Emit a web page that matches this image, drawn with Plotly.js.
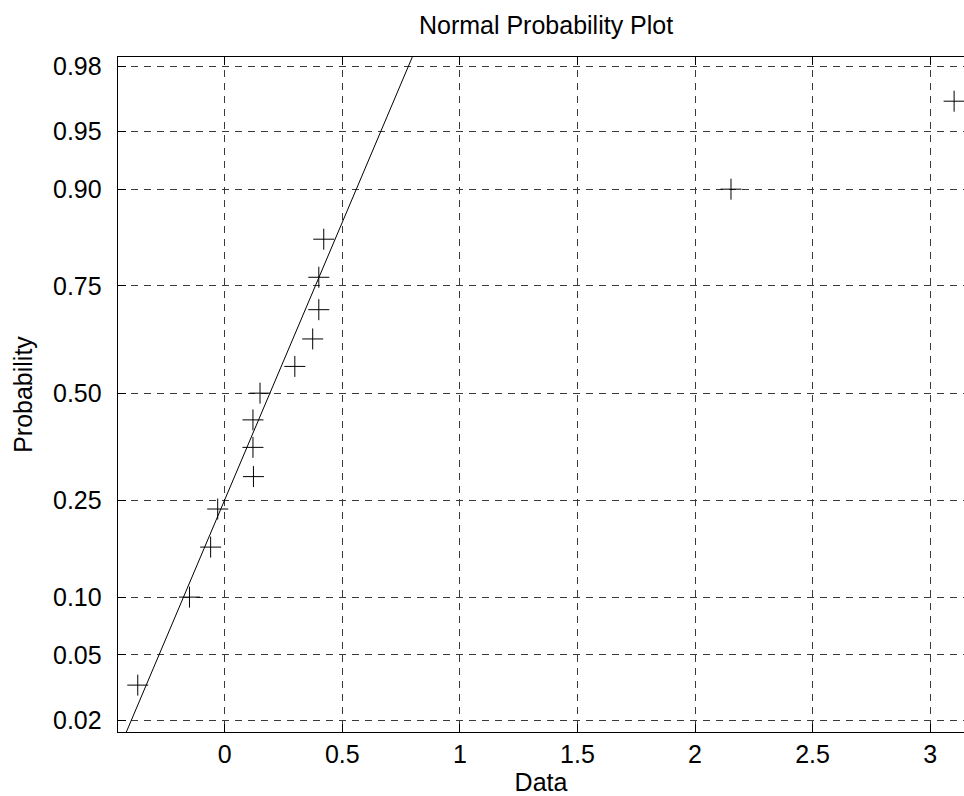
<!DOCTYPE html>
<html>
<head>
<meta charset="utf-8">
<script src="https://cdn.plot.ly/plotly-3.0.1.min.js"></script>
<style>html,body{margin:0;padding:0;background:#fff;}#chart{width:964px;height:796px;}</style>
</head>
<body>
<div id="chart"></div>
<script>
// ---- data ----
const dataX = [-0.370, -0.150, -0.060, -0.030, 0.122, 0.120, 0.120, 0.150, 0.298, 0.374, 0.400, 0.400, 0.421, 2.153, 3.102];
const dataProb = [0.0333, 0.1000, 0.1667, 0.2333, 0.3000, 0.3667, 0.4333, 0.5000, 0.5667, 0.6333, 0.7000, 0.7667, 0.8333, 0.9000, 0.9667];
const fitLineX = [-0.428, 0.798];
const fitLineProb = [0.0153, 0.9827];
const tickProbs = [0.02, 0.05, 0.10, 0.25, 0.50, 0.75, 0.90, 0.95, 0.98];
const tickLabels = ['0.02', '0.05', '0.10', '0.25', '0.50', '0.75', '0.90', '0.95', '0.98'];
const xTickVals = [0, 0.5, 1, 1.5, 2, 2.5, 3];
const xTickLabels = ['0', '0.5', '1', '1.5', '2', '2.5', '3'];

// inverse standard normal CDF (probit axis transform)
function norminv(p) {
  const a = [-3.969683028665376e+01, 2.209460984245205e+02, -2.759285104469687e+02, 1.383577518672690e+02, -3.066479806614716e+01, 2.506628277459239e+00];
  const b = [-5.447609879822406e+01, 1.615858368580409e+02, -1.556989798598866e+02, 6.680131188771972e+01, -1.328068155288572e+01];
  const c = [-7.784894002430293e-03, -3.223964580411365e-01, -2.400758277161838e+00, -2.549732539343734e+00, 4.374664141464968e+00, 2.938163982698783e+00];
  const d = [7.784695709041462e-03, 3.224671290700398e-01, 2.445134137142996e+00, 3.754408661907416e+00];
  const pl = 0.02425, ph = 1 - pl;
  let q, r;
  if (p < pl) {
    q = Math.sqrt(-2 * Math.log(p));
    return (((((c[0]*q+c[1])*q+c[2])*q+c[3])*q+c[4])*q+c[5]) / ((((d[0]*q+d[1])*q+d[2])*q+d[3])*q+1);
  } else if (p <= ph) {
    q = p - 0.5; r = q * q;
    return (((((a[0]*r+a[1])*r+a[2])*r+a[3])*r+a[4])*r+a[5])*q / (((((b[0]*r+b[1])*r+b[2])*r+b[3])*r+b[4])*r+1);
  } else {
    q = Math.sqrt(-2 * Math.log(1 - p));
    return -(((((c[0]*q+c[1])*q+c[2])*q+c[3])*q+c[4])*q+c[5]) / ((((d[0]*q+d[1])*q+d[2])*q+d[3])*q+1);
  }
}

const FONT = 'Liberation Sans, Arial, sans-serif';

const traces = [
  {
    type: 'scatter', mode: 'lines',
    x: fitLineX, y: fitLineProb.map(norminv),
    line: {color: '#000', width: 1},
    hoverinfo: 'skip', showlegend: false
  },
  {
    type: 'scatter', mode: 'markers',
    x: dataX, y: dataProb.map(norminv),
    marker: {symbol: 'cross-thin-open', size: 15, color: '#000', line: {color: '#000', width: 1}},
    cliponaxis: false, showlegend: false
  }
];

const layout = {
  width: 964, height: 796,
  margin: {l: 118, r: 0, t: 57, b: 64, pad: 0},
  paper_bgcolor: '#fff', plot_bgcolor: '#fff',
  font: {family: FONT, size: 25, color: '#000'},
  showlegend: false,
  title: {text: 'Normal Probability Plot', font: {family: FONT, size: 25, color: '#000'},
          x: 0.506, xref: 'paper', xanchor: 'center', y: 1 - 25/796, yref: 'container', yanchor: 'middle'},
  xaxis: {
    range: [-0.454, 3.144], zeroline: false,
    tickvals: xTickVals, ticktext: xTickLabels,
    ticks: 'inside', ticklen: 8, tickwidth: 1, tickcolor: '#000',
    showline: true, linecolor: '#000', linewidth: 1.3, mirror: 'ticks',
    showgrid: true, gridcolor: '#3a3a3a', gridwidth: 1, griddash: '7px,6px',
    tickfont: {family: FONT, size: 25, color: '#000'},
    ticklabelstandoff: 0,
    title: {text: 'Data', font: {family: FONT, size: 25, color: '#000'}, standoff: 16}
  },
  yaxis: {
    range: [-2.129, 2.112], zeroline: false,
    tickvals: tickProbs.map(norminv), ticktext: tickLabels,
    ticks: 'inside', ticklen: 8, tickwidth: 1, tickcolor: '#000',
    showline: true, linecolor: '#000', linewidth: 1.3, mirror: false,
    showgrid: true, gridcolor: '#3a3a3a', gridwidth: 1, griddash: '7px,6px',
    tickfont: {family: FONT, size: 25, color: '#000'},
    ticklabelstandoff: 10,
    title: {text: 'Probability', font: {family: FONT, size: 25, color: '#000'}, standoff: 13}
  }
};

Plotly.newPlot('chart', traces, layout, {staticPlot: true, displayModeBar: false});
</script>
</body>
</html>
